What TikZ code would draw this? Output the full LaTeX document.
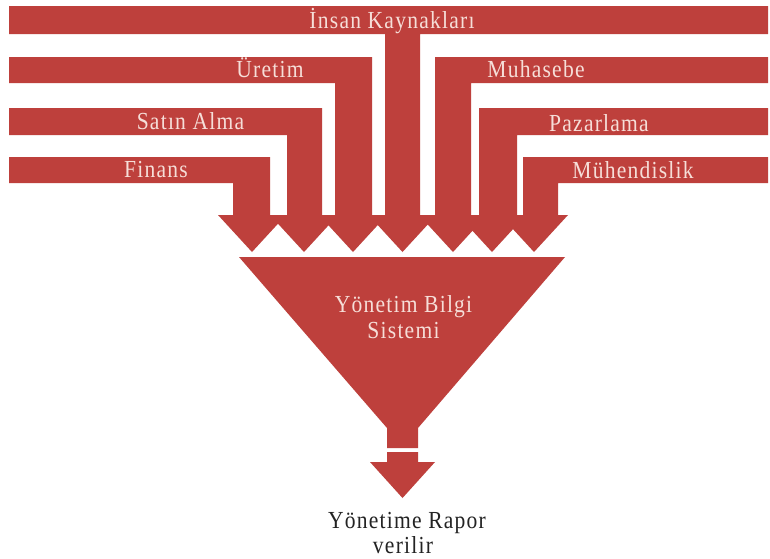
\documentclass[tikz,border=0pt]{standalone}
\usepackage{fontspec}
\setmainfont{Liberation Serif}[LetterSpace=5, FakeStretch=0.88]
\definecolor{flowred}{RGB}{190,64,60}
\definecolor{labelpink}{RGB}{246,222,216}
\definecolor{darktext}{RGB}{35,35,35}

\begin{document}
\begin{tikzpicture}[x=1pt,y=-1pt,
  flow/.style={fill=flowred},
  lbl/.style={text=labelpink, font=\fontsize{24.5}{28}\selectfont, inner sep=0pt, anchor=base},
  outlbl/.style={lbl, text=darktext}]
\useasboundingbox (0,0) rectangle (770,558);
\fill[white] (0,0) rectangle (770,558);

% centre band with its stem and head
\fill[flow] (9,6) -- (768,6) -- (768,34) -- (420,34) -- (420,215) -- (436.5,215)
  -- (402.5,252) -- (368.5,215) -- (385,215) -- (385,34) -- (9,34) -- cycle;

% left bands
\fill[flow] (9,57) -- (372,57) -- (372,215) -- (387,215) -- (353,252) -- (319,215)
  -- (335,215) -- (335,83) -- (9,83) -- cycle;
\fill[flow] (9,108) -- (322,108) -- (322,215) -- (338,215) -- (304,252) -- (270,215)
  -- (287,215) -- (287,135) -- (9,135) -- cycle;
\fill[flow] (9,157) -- (270,157) -- (270,215) -- (286,215) -- (252,252) -- (218,215)
  -- (233,215) -- (233,183) -- (9,183) -- cycle;

% right bands
\fill[flow] (768,57) -- (435,57) -- (435,215) -- (419,215) -- (453,252) -- (487,215)
  -- (471,215) -- (471,83) -- (768,83) -- cycle;
\fill[flow] (768,108) -- (479,108) -- (479,215) -- (458,215) -- (492,252) -- (526,215)
  -- (517,215) -- (517,135) -- (768,135) -- cycle;
\fill[flow] (768,157) -- (523,157) -- (523,215) -- (500,215) -- (534,252) -- (568,215)
  -- (558,215) -- (558,183) -- (768,183) -- cycle;

% funnel with its neck
\fill[flow] (239,257) -- (565,257) -- (418,428) -- (418,448) -- (387,448)
  -- (387,428) -- cycle;
% outgoing arrow
\fill[flow] (387,452) -- (418,452) -- (418,462) -- (435,462) -- (402.5,498)
  -- (370,462) -- (387,462) -- cycle;

% labels
\node[lbl] (ik) at (392,28) {İnsan Kaynakları};
\node[lbl] (ur) at (270,77) {Üretim};
\node[lbl] (mu) at (536,77) {Muhasebe};
\node[lbl] (sa) at (190.5,129) {Satın Alma};
\node[lbl] (pa) at (599,131) {Pazarlama};
\node[lbl] (fi) at (156,177) {Finans};
\node[lbl] (me) at (633,178) {Mühendislik};
\node[lbl] (ybs1) at (403.5,312) {Yönetim Bilgi};
\node[lbl] (ybs2) at (403.5,338) {Sistemi};
\node[outlbl] (yr1) at (407,528) {Yönetime Rapor};
\node[outlbl] (yr2) at (403,553) {verilir};
\end{tikzpicture}
\end{document}
